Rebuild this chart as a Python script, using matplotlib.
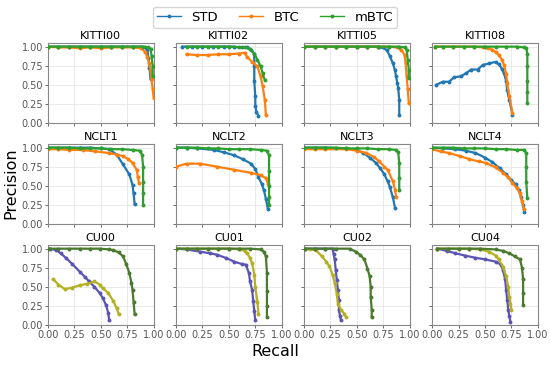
import numpy as np
import matplotlib as mpl; mpl.use("Agg")
import matplotlib.pyplot as plt
from matplotlib.lines import Line2D

# ---- data (recall, precision) ----
TITLES = ["KITTI00","KITTI02","KITTI05","KITTI08",
          "NCLT1","NCLT2","NCLT3","NCLT4",
          "CU00","CU01","CU02","CU04"]

STD_R = [
    [0.0,0.1,0.2,0.3,0.4,0.5,0.6,0.7,0.8,0.88,0.92,0.94,0.95,0.96,0.97],
    [0.06,0.15,0.25,0.35,0.45,0.55,0.62,0.67,0.71,0.74,0.74,0.74,0.75,0.75,0.76,0.78],
    [0.0,0.1,0.2,0.3,0.4,0.5,0.6,0.71,0.78,0.81,0.84,0.86,0.87,0.88,0.89,0.9,0.9],
    [0.04,0.1,0.16,0.21,0.27,0.32,0.37,0.43,0.48,0.54,0.6,0.63,0.66,0.68,0.7,0.71,0.73,0.76],
    [0.0,0.1,0.2,0.3,0.4,0.5,0.58,0.65,0.71,0.77,0.8,0.81,0.82],
    [0.0,0.1,0.2,0.36,0.45,0.55,0.63,0.71,0.75,0.78,0.81,0.83,0.85,0.87],
    [0.0,0.1,0.2,0.4,0.5,0.56,0.62,0.68,0.72,0.76,0.79,0.81,0.84,0.86],
    [0.0,0.1,0.22,0.32,0.41,0.5,0.57,0.64,0.7,0.75,0.79,0.82,0.84,0.86,0.87],
    [0.02,0.08,0.12,0.17,0.23,0.3,0.35,0.39,0.44,0.49,0.52,0.55,0.57,0.58],
    [0.0,0.1,0.23,0.32,0.39,0.47,0.55,0.62,0.66,0.69,0.7,0.72,0.73,0.74,0.75],
    [0.01,0.1,0.2,0.27,0.28,0.29,0.3,0.31,0.32,0.33,0.33,0.34,0.35],
    [0.05,0.14,0.22,0.31,0.41,0.5,0.6,0.65,0.67,0.69,0.7,0.71,0.72,0.73,0.74],
]
STD_P = [
    [1.0,1.0,1.0,1.0,1.0,1.0,1.0,1.0,1.0,1.0,0.99,0.95,0.85,0.72,0.58],
    [1.0,1.0,1.0,1.0,1.0,1.0,0.99,0.99,0.96,0.91,0.75,0.55,0.35,0.22,0.15,0.09],
    [1.0,1.0,1.0,1.0,1.0,1.0,1.0,1.0,0.96,0.88,0.78,0.69,0.61,0.53,0.46,0.3,0.11],
    [0.5,0.54,0.54,0.6,0.61,0.65,0.7,0.7,0.76,0.78,0.8,0.77,0.71,0.65,0.55,0.43,0.3,0.11],
    [1.0,1.0,1.0,1.0,1.0,0.99,0.98,0.91,0.78,0.65,0.51,0.4,0.26],
    [1.0,1.0,0.99,0.97,0.94,0.9,0.85,0.79,0.72,0.61,0.53,0.45,0.33,0.19],
    [1.0,1.0,1.0,0.99,0.97,0.93,0.87,0.8,0.73,0.65,0.56,0.49,0.35,0.21],
    [1.0,0.99,0.98,0.96,0.93,0.87,0.81,0.73,0.65,0.57,0.52,0.44,0.36,0.25,0.16],
    [1.0,0.98,0.94,0.88,0.8,0.7,0.63,0.57,0.5,0.42,0.35,0.26,0.16,0.06],
    [1.0,0.99,0.96,0.94,0.92,0.88,0.83,0.8,0.79,0.68,0.57,0.46,0.32,0.18,0.06],
    [1.0,1.0,1.0,1.0,0.93,0.86,0.72,0.59,0.46,0.33,0.2,0.12,0.06],
    [1.0,0.97,0.94,0.91,0.88,0.86,0.83,0.79,0.72,0.6,0.46,0.33,0.2,0.12,0.04],
]

BTC_R = [
    [0.0,0.1,0.2,0.3,0.4,0.5,0.6,0.7,0.8,0.88,0.92,0.94,0.96,0.97,0.98,0.99,1.0],
    [0.1,0.2,0.3,0.4,0.5,0.6,0.65,0.67,0.72,0.77,0.8,0.82,0.84,0.85],
    [0.0,0.1,0.2,0.3,0.4,0.5,0.6,0.7,0.8,0.88,0.92,0.95,0.96,0.97,0.98,0.99],
    [0.03,0.1,0.2,0.3,0.4,0.48,0.53,0.57,0.6,0.63,0.66,0.68,0.7,0.71,0.73,0.76],
    [0.0,0.1,0.2,0.33,0.45,0.58,0.65,0.71,0.76,0.8,0.84,0.85,0.86],
    [0.0,0.1,0.23,0.39,0.55,0.71,0.8,0.85,0.87],
    [0.0,0.1,0.2,0.4,0.5,0.59,0.66,0.71,0.76,0.79,0.84,0.86,0.87],
    [0.0,0.08,0.16,0.26,0.35,0.44,0.51,0.6,0.67,0.72,0.76,0.8,0.83,0.85,0.87],
    [0.05,0.1,0.16,0.23,0.3,0.37,0.44,0.49,0.52,0.57,0.62,0.65,0.67],
    [0.0,0.1,0.2,0.3,0.4,0.5,0.61,0.65,0.67,0.7,0.72,0.74,0.75,0.77,0.78],
    [0.01,0.06,0.11,0.17,0.21,0.24,0.27,0.29,0.31,0.32,0.35,0.38,0.4],
    [0.05,0.15,0.25,0.35,0.45,0.54,0.6,0.63,0.67,0.7,0.72,0.73,0.74,0.75],
]
BTC_P = [
    [1.0,0.99,0.99,0.98,0.99,0.98,0.99,0.99,0.99,0.98,0.93,0.86,0.78,0.68,0.57,0.45,0.33],
    [0.9,0.89,0.89,0.9,0.9,0.91,0.92,0.87,0.8,0.74,0.61,0.48,0.3,0.11],
    [1.0,1.0,1.0,1.0,1.0,1.0,1.0,1.0,1.0,0.99,0.96,0.89,0.78,0.61,0.45,0.26],
    [1.0,1.0,1.0,1.0,1.0,0.99,0.98,0.96,0.93,0.89,0.83,0.76,0.64,0.52,0.35,0.13],
    [0.98,0.98,0.97,0.97,0.95,0.93,0.91,0.89,0.85,0.8,0.71,0.62,0.54],
    [0.75,0.79,0.79,0.75,0.71,0.67,0.64,0.6,0.53],
    [0.98,0.98,0.98,0.98,0.96,0.93,0.88,0.82,0.75,0.71,0.56,0.45,0.36],
    [0.98,0.95,0.93,0.89,0.85,0.82,0.8,0.74,0.67,0.61,0.54,0.47,0.41,0.3,0.19],
    [0.6,0.53,0.47,0.49,0.52,0.54,0.57,0.53,0.48,0.42,0.31,0.22,0.14],
    [1.0,1.0,1.0,1.0,1.0,1.0,0.99,0.97,0.94,0.88,0.81,0.66,0.5,0.3,0.15],
    [1.0,0.99,0.98,0.9,0.83,0.77,0.66,0.55,0.41,0.28,0.2,0.15,0.1],
    [1.0,1.0,1.0,1.0,0.99,0.96,0.91,0.86,0.76,0.64,0.5,0.37,0.28,0.2],
]

MBTC_R = [
    [0.0,0.1,0.2,0.3,0.4,0.5,0.6,0.7,0.8,0.9,0.95,0.97,0.98,0.99,0.99],
    [0.1,0.2,0.3,0.4,0.5,0.6,0.65,0.7,0.74,0.77,0.8,0.82,0.84],
    [0.0,0.1,0.2,0.3,0.4,0.5,0.6,0.7,0.8,0.9,0.95,0.97,0.98,0.99,0.99],
    [0.03,0.1,0.2,0.3,0.4,0.5,0.6,0.7,0.8,0.87,0.89,0.9,0.9,0.9,0.9,0.9],
    [0.0,0.1,0.2,0.3,0.4,0.5,0.6,0.7,0.8,0.87,0.89,0.9,0.9,0.9,0.9],
    [0.0,0.1,0.2,0.3,0.4,0.5,0.6,0.7,0.8,0.86,0.88,0.88,0.88,0.88,0.88],
    [0.0,0.1,0.2,0.3,0.4,0.5,0.6,0.7,0.8,0.87,0.89,0.9,0.9,0.9],
    [0.0,0.1,0.2,0.3,0.4,0.5,0.6,0.7,0.8,0.87,0.89,0.89,0.89,0.9],
    [0.0,0.1,0.2,0.3,0.4,0.49,0.58,0.62,0.67,0.71,0.74,0.77,0.79,0.8,0.81,0.82],
    [0.0,0.1,0.2,0.3,0.4,0.5,0.6,0.7,0.8,0.83,0.85,0.86,0.86,0.86,0.86],
    [0.01,0.1,0.2,0.3,0.43,0.49,0.53,0.57,0.6,0.62,0.63,0.63,0.64,0.64],
    [0.05,0.15,0.25,0.35,0.45,0.6,0.67,0.73,0.78,0.83,0.85,0.86,0.86,0.86],
]
MBTC_P = [
    [1.0,1.0,1.0,1.0,1.0,1.0,1.0,1.0,1.0,1.0,0.99,0.97,0.88,0.75,0.62],
    [1.0,1.0,1.0,1.0,1.0,0.99,0.99,0.97,0.91,0.83,0.74,0.65,0.56],
    [1.0,1.0,1.0,1.0,1.0,1.0,1.0,1.0,1.0,1.0,0.99,0.96,0.83,0.7,0.59],
    [1.0,1.0,1.0,1.0,1.0,1.0,1.0,1.0,1.0,0.99,0.98,0.91,0.75,0.55,0.4,0.26],
    [1.0,1.0,1.0,0.99,0.99,0.99,0.98,0.98,0.97,0.96,0.91,0.75,0.55,0.4,0.25],
    [1.0,1.0,1.0,0.99,0.99,0.98,0.98,0.98,0.97,0.96,0.9,0.7,0.5,0.35,0.25],
    [1.0,1.0,1.0,1.0,0.99,0.99,0.99,0.98,0.98,0.97,0.94,0.8,0.6,0.45],
    [1.0,1.0,1.0,0.99,0.99,0.99,0.98,0.98,0.97,0.97,0.93,0.75,0.55,0.34],
    [1.0,1.0,1.0,1.0,1.0,1.0,0.99,0.98,0.95,0.9,0.8,0.68,0.55,0.46,0.3,0.14],
    [1.0,1.0,1.0,1.0,1.0,1.0,1.0,1.0,0.99,0.96,0.9,0.68,0.45,0.25,0.1],
    [1.0,1.0,1.0,1.0,1.0,0.96,0.92,0.86,0.74,0.64,0.5,0.37,0.2,0.1],
    [1.0,1.0,1.0,1.0,1.0,0.99,0.97,0.94,0.9,0.86,0.75,0.6,0.42,0.26],
]

COLORS = {"STD":"#1f77b4","BTC":"#ff7f0e","mBTC":"#2ca02c"}
CU_COLORS = {"STD":"#5a55b5","BTC":"#b5b022","mBTC":"#4a7a2e"}
TICKS = [0.0,0.25,0.5,0.75,1.0]

mpl.rcParams.update({"font.family":"DejaVu Sans","axes.edgecolor":"#888888",
                     "xtick.color":"#555555","ytick.color":"#555555"})

fig, axes = plt.subplots(3, 4, figsize=(5.5,3.66), dpi=100, sharex=True, sharey=True)
fig.subplots_adjust(left=0.087, right=0.978, top=0.883, bottom=0.112, wspace=0.21, hspace=0.26)

for i, ax in enumerate(axes.flat):
    cols = CU_COLORS if i >= 8 else COLORS
    for name, R, P in [("STD",STD_R,STD_P),("BTC",BTC_R,BTC_P),("mBTC",MBTC_R,MBTC_P)]:
        ax.plot(R[i], P[i], color=cols[name], lw=1.6, marker="o", ms=1.8, zorder=3)
    ax.set_title(TITLES[i], fontsize=8, pad=3)
    ax.set_xlim(0, 1); ax.set_ylim(0, 1.05)
    ax.set_xticks(TICKS); ax.set_yticks(TICKS)
    ax.grid(True, color="#e6e6e6", lw=0.6)
    ax.tick_params(labelsize=7, length=2.5, width=0.6, pad=1)
    for s in ax.spines.values(): s.set_linewidth(0.8)

handles = [Line2D([0],[0], color=COLORS[n], lw=1.0, marker="o", ms=1.8, label=n) for n in ["STD","BTC","mBTC"]]
fig.legend(handles=handles, loc="upper center", bbox_to_anchor=(0.5, 1.0), ncol=3, fontsize=9.5,
           handlelength=1.8, handletextpad=0.8, columnspacing=1.6, borderpad=0.3, fancybox=True)
fig.text(0.02, 0.5, "Precision", rotation=90, ha="center", va="center", fontsize=11.5)
fig.text(0.5, 0.04, "Recall", ha="center", va="center", fontsize=11.5)

fig.savefig("out.png", dpi=100)
